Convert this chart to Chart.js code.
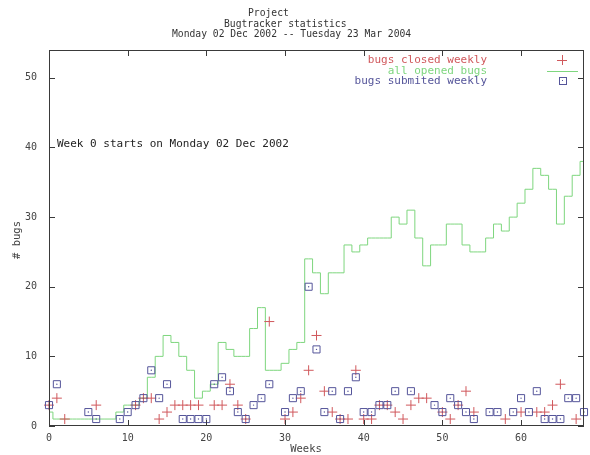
<!DOCTYPE html>
<html>
<head>
<meta charset="utf-8">
<script src="https://cdn.jsdelivr.net/npm/chart.js@4"></script>
<style>
  html, body { margin: 0; padding: 0; background: #fff; }
  canvas { display: block; }
</style>
</head>
<body>
<canvas id="bugChart" width="590" height="455"></canvas>
<script>
// all opened bugs, one value per week (0..68)
const openedBugs = [2, 1, 1, 1, 1, 1, 1, 1, 1, 2, 3, 3, 4, 7, 10, 13, 12, 10, 8, 4,
                    5, 6, 12, 11, 10, 10, 14, 17, 8, 8, 9, 11, 12, 24, 22, 19, 22, 22, 26, 25,
                    26, 27, 27, 27, 30, 29, 31, 27, 23, 26, 26, 29, 29, 26, 25, 25, 27, 29, 28, 30,
                    32, 34, 37, 36, 34, 29, 33, 36, 38];
const weeks = openedBugs.map((v, i) => i);

// bugs closed weekly
const closedWeeks = [0, 1, 2, 6, 11, 12, 13, 14, 15, 16, 17, 18, 19, 21, 22, 23, 24, 25, 28,
                     30, 31, 32, 33, 34, 35, 36, 37, 38, 39, 40, 41, 42, 43, 44, 45, 46, 47, 48,
                     50, 51, 52, 53, 54, 58, 60, 62, 63, 64, 65, 67];
const closedBugs = [3, 4, 1, 3, 3, 4, 4, 1, 2, 3, 3, 3, 3, 3, 3, 6, 3, 1, 15,
                    1, 2, 4, 8, 13, 5, 2, 1, 1, 8, 1, 1, 3, 3, 2, 1, 3, 4, 4,
                    2, 1, 3, 5, 2, 1, 2, 2, 2, 3, 6, 1];

// bugs submited weekly
const submittedWeeks = [0, 1, 5, 6, 9, 10, 11, 12, 13, 14, 15, 17, 18, 19, 20, 21, 22, 23, 24, 25,
                        26, 27, 28, 30, 31, 32, 33, 34, 35, 36, 37, 38, 39, 40, 41, 42, 43, 44, 46,
                        49, 50, 51, 52, 53, 54, 56, 57, 59, 60, 61, 62, 63, 64, 65, 66, 67, 68];
const submittedBugs = [3, 6, 2, 1, 1, 2, 3, 4, 8, 4, 6, 1, 1, 1, 1, 6, 7, 5, 2, 1,
                       3, 4, 6, 2, 4, 5, 20, 11, 2, 5, 1, 5, 7, 2, 2, 3, 3, 5, 5,
                       3, 2, 4, 3, 2, 1, 2, 2, 2, 4, 2, 5, 1, 1, 1, 4, 4, 2];

const titleLines = ['Project', 'Bugtracker statistics', 'Monday 02 Dec 2002 -- Tuesday 23 Mar 2004'];
const legendLabels = ['bugs closed weekly', 'all opened bugs', 'bugs submited weekly'];
const noteText = 'Week 0 starts on Monday 02 Dec 2002';

const RED = '#d0585c';
const GREEN = '#7ed67e';
const BLUE = '#55559a';
const MONO = '"DejaVu Sans Mono", "Liberation Mono", monospace';

function toPoints(xs, ys) {
    return xs.map((x, i) => ({ x: x, y: ys[i] }));
}

// gnuplot-like frame, inward ticks, title, legend and labels
const gnuplotFrame = {
    id: 'gnuplotFrame',
    beforeDraw(chart) {
        const ctx = chart.ctx;
        ctx.save();
        ctx.fillStyle = '#fff';
        ctx.fillRect(0, 0, chart.width, chart.height);
        ctx.restore();
    },
    afterDraw(chart) {
        const { ctx, chartArea: a, scales: { x, y } } = chart;
        ctx.save();
        ctx.strokeStyle = '#3a3a3a';
        ctx.lineWidth = 1;
        ctx.strokeRect(a.left + 0.5, a.top + 0.5, a.right - a.left - 1, a.bottom - a.top - 1);

        ctx.beginPath();
        x.ticks.forEach(t => {
            const px = Math.round(x.getPixelForValue(t.value)) + 0.5;
            ctx.moveTo(px, a.bottom); ctx.lineTo(px, a.bottom - 6);
            ctx.moveTo(px, a.top); ctx.lineTo(px, a.top + 6);
        });
        y.ticks.forEach(t => {
            const py = Math.round(y.getPixelForValue(t.value)) + 0.5;
            ctx.moveTo(a.left, py); ctx.lineTo(a.left + 6, py);
            ctx.moveTo(a.right, py); ctx.lineTo(a.right - 6, py);
        });
        ctx.stroke();

        // title
        ctx.fillStyle = '#333';
        ctx.textBaseline = 'middle';
        ctx.textAlign = 'left';
        ctx.font = '9.7px ' + MONO;
        ctx.fillText(titleLines[0], 248, 13);
        ctx.fillText(titleLines[1], 224, 24);
        ctx.fillText(titleLines[2], 172, 34);

        // note inside plot
        ctx.font = '11px ' + MONO;
        ctx.fillStyle = '#222';
        ctx.fillText(noteText, 57, 144);

        // axis titles
        ctx.textAlign = 'center';
        ctx.fillStyle = '#444';
        ctx.font = '10.5px ' + MONO;
        ctx.fillText('Weeks', 306, 449);
        ctx.save();
        ctx.translate(17, 240);
        ctx.rotate(-Math.PI / 2);
        ctx.fillText('# bugs', 0, 0);
        ctx.restore();

        // legend
        ctx.textAlign = 'right';
        ctx.font = '11px ' + MONO;
        const rows = [60, 71, 81];
        const colors = [RED, GREEN, BLUE];
        legendLabels.forEach((lbl, i) => {
            ctx.fillStyle = colors[i];
            ctx.fillText(lbl, 487, rows[i]);
        });
        ctx.lineWidth = 1;
        ctx.strokeStyle = RED;
        ctx.beginPath();
        ctx.moveTo(557, rows[0] + 0.5); ctx.lineTo(567, rows[0] + 0.5);
        ctx.moveTo(562.5, rows[0] - 5); ctx.lineTo(562.5, rows[0] + 5);
        ctx.stroke();
        ctx.strokeStyle = GREEN;
        ctx.beginPath();
        ctx.moveTo(547, rows[1] + 0.5); ctx.lineTo(578, rows[1] + 0.5);
        ctx.stroke();
        ctx.strokeStyle = BLUE;
        ctx.strokeRect(559.5, rows[2] - 3.5, 7, 7);
        ctx.fillStyle = BLUE;
        ctx.fillRect(562, rows[2] - 1, 1, 1);
        ctx.restore();
    }
};

const tickFont = { family: MONO, size: 10 };

new Chart(document.getElementById('bugChart'), {
    type: 'scatter',
    data: {
        datasets: [
            {
                label: legendLabels[2],
                data: toPoints(submittedWeeks, submittedBugs),
                pointStyle: 'rect',
                pointRadius: 5,
                borderColor: BLUE,
                backgroundColor: 'rgba(0,0,0,0)',
                borderWidth: 1,
                clip: false
            },
            {
                label: 'dots',
                data: toPoints(submittedWeeks, submittedBugs),
                pointStyle: 'circle',
                pointRadius: 0.7,
                borderWidth: 0,
                backgroundColor: BLUE,
                clip: false
            },
            {
                label: legendLabels[0],
                data: toPoints(closedWeeks, closedBugs),
                pointStyle: 'cross',
                pointRadius: 5,
                borderColor: RED,
                borderWidth: 1,
                clip: false
            },
            {
                type: 'line',
                label: legendLabels[1],
                data: toPoints(weeks, openedBugs),
                stepped: 'middle',
                showLine: true,
                pointRadius: 0,
                borderColor: GREEN,
                borderWidth: 1,
                fill: false
            }
        ]
    },
    options: {
        responsive: false,
        animation: false,
        events: [],
        layout: { padding: { top: 50, right: 2, left: 0, bottom: 0 } },
        plugins: {
            legend: { display: false },
            title: { display: false },
            tooltip: { enabled: false }
        },
        scales: {
            x: {
                type: 'linear',
                min: 0,
                max: 68,
                grid: { display: false, drawTicks: false },
                border: { display: false },
                ticks: { stepSize: 10, includeBounds: false, padding: 6, color: '#444', font: tickFont, maxRotation: 0 },
                afterFit(scale) { scale.height = 29; }
            },
            y: {
                min: 0,
                max: 54,
                grid: { display: false, drawTicks: false },
                border: { display: false },
                ticks: { stepSize: 10, includeBounds: false, padding: 12, color: '#444', font: tickFont },
                afterFit(scale) { scale.width = 49; }
            }
        }
    },
    plugins: [gnuplotFrame]
});
</script>
</body>
</html>
